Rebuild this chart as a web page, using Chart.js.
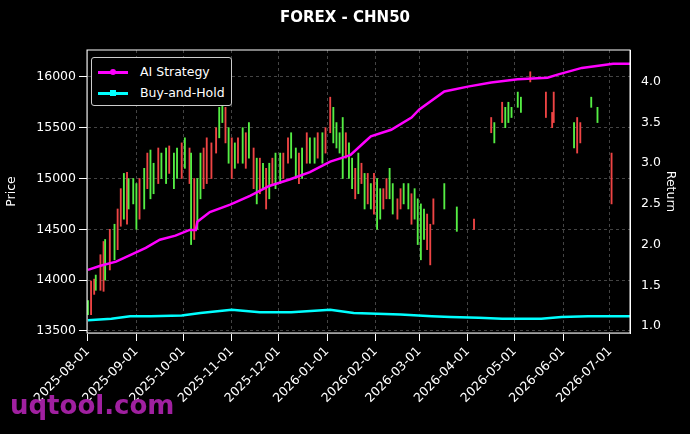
<!DOCTYPE html>
<html>
<head>
<meta charset="utf-8">
<script src="https://cdn.jsdelivr.net/npm/chart.js@4.4.1/dist/chart.umd.min.js"></script>
<style>
  html, body { margin: 0; padding: 0; background: #000; }
  #wrap { position: relative; width: 690px; height: 434px; font-family: "DejaVu Sans", sans-serif; }
  #title { position: absolute; top: 8px; left: 0; width: 690px; text-align: center; color: #fff; font-weight: bold; font-size: 15px; }
  #legend { position: absolute; left: 91px; top: 57px; border: 1px solid #ccc; border-radius: 3px; padding: 3px 6px 2px 6px; color: #fff; font-size: 12.5px; background: #000; }
  #legend div { height: 21px; line-height: 21px; }
  #legend span.sw { display: inline-block; width: 30px; height: 2.5px; vertical-align: middle; margin-right: 12px; position: relative; }
  #legend span.sw i { position: absolute; left: 12px; top: -2px; width: 6px; height: 6px; }
  #wm { position: absolute; left: 10px; top: 390px; color: #a020a0; font-weight: bold; font-size: 26px; }
</style>
</head>
<body>
<div id="wrap">
  <canvas id="c" width="690" height="434"></canvas>
  <div id="title">FOREX - CHN50</div>
  <div id="legend">
    <div><span class="sw" style="background:#ff00ff"><i style="background:#ff00ff;border-radius:3px"></i></span>AI Strategy</div>
    <div><span class="sw" style="background:#00ffff"><i style="background:#00ffff"></i></span>Buy-and-Hold</div>
  </div>
  <div id="wm">uqtool.com</div>
</div>
<script>
"use strict";

// ── Data ──────────────────────────────────────────────────────────────────────
// day offsets from 2025-08-01
const monthDays   = [0, 31, 61, 92, 122, 153, 184, 212, 243, 273, 304, 334];
const monthLabels = ["2025-08-01", "2025-09-01", "2025-10-01", "2025-11-01", "2025-12-01", "2026-01-01",
                     "2026-02-01", "2026-03-01", "2026-04-01", "2026-05-01", "2026-06-01", "2026-07-01"];

// [day, low, high, up]
const candles = [
  [0,13660,13800,1],[2,13660,13990,0],[4,13860,14010,0],[5,13900,14050,1],[8,13900,14250,0],
  [10,13890,14380,0],[11,14000,14400,1],[14,14100,14500,0],[17,14200,14550,1],[19,14300,14700,0],
  [21,14530,14900,0],[23,14600,15050,1],[25,14550,15060,0],[26,14700,15000,1],[29,14750,15000,1],
  [31,14500,14950,1],[33,14600,15000,0],[36,14700,15100,1],[38,14900,15250,0],[40,14800,15280,1],
  [42,14850,15150,1],[45,14950,15300,0],[47,15000,15250,1],[50,14950,15300,1],[52,15050,15320,0],
  [55,14900,15250,1],[57,15000,15300,1],[60,15000,15350,0],[62,15100,15400,1],[65,14950,15300,0],
  [66,14350,15250,1],[68,14400,15000,0],[70,14500,15000,1],[72,14800,15250,1],[74,14900,15300,0],
  [76,14950,15400,0],[79,15000,15350,0],[82,15250,15500,0],[84,15400,15700,1],[86,15550,15800,1],
  [88,15350,15700,0],[90,15150,15500,1],[92,15000,15400,0],[94,15100,15350,1],[96,15150,15400,0],
  [99,15150,15500,1],[101,15100,15450,0],[103,15200,15550,1],[106,14900,15300,0],[108,14750,15200,1],
  [110,14850,15200,0],[112,14900,15150,1],[114,14700,15100,0],[116,14800,15150,1],[118,14950,15200,0],
  [120,14900,15250,1],[123,14950,15250,1],[125,15000,15250,0],[128,15150,15400,0],[130,15200,15450,1],
  [133,15000,15300,1],[135,14950,15250,0],[137,15000,15300,1],[140,15150,15450,0],[142,15150,15400,1],
  [145,15150,15400,1],[147,15200,15450,0],[150,15150,15450,1],[152,15250,15500,0],[155,15450,15800,0],
  [157,15350,15700,1],[159,15300,15550,1],[161,15250,15450,1],[163,15000,15600,1],[165,15200,15450,0],
  [167,15000,15350,1],[169,14900,15200,1],[171,14800,15100,0],[173,14850,15250,1],[175,14950,15150,0],
  [177,14700,15050,1],[179,14750,15050,0],[181,14700,14950,1],[183,14650,15050,0],[185,14500,15000,1],
  [187,14600,14900,1],[189,14700,14900,0],[191,14800,15000,0],[193,14800,15100,1],[195,14650,14950,1],
  [198,14600,14800,0],[200,14700,14900,0],[202,14750,14950,1],[205,14700,14950,1],[207,14550,14850,0],
  [209,14600,14900,1],[211,14350,14800,1],[213,14200,14750,1],[215,14400,14700,1],[217,14300,14650,0],
  [219,14150,14550,0],[221,14550,14800,0],[228,14700,14950,1],[236,14480,14720,1],[247,14500,14600,0],
  [258,15450,15600,0],[260,15350,15550,1],[265,15550,15750,0],[267,15500,15700,1],[269,15550,15750,1],
  [271,15600,15700,1],[275,15700,15850,1],[277,15650,15800,1],[283,15950,16050,0],[293,15600,15850,0],
  [297,15500,15650,0],[298,15550,15850,0],[311,15300,15550,1],[313,15250,15600,0],[315,15350,15550,0],
  [322,15700,15800,1],[326,15550,15700,1],[335,14750,15250,0]
];

const aiDays   = [0, 8, 18, 27, 37, 46, 56, 65, 69, 70, 78, 91, 104, 116, 129, 142, 155, 165, 168, 177, 181, 194, 207, 212, 228, 243, 258, 275, 294, 301, 316, 336, 347];
const aiReturn = [1.69, 1.74, 1.79, 1.87, 1.96, 2.06, 2.11, 2.18, 2.18, 2.28, 2.40, 2.49, 2.60, 2.72, 2.80, 2.89, 3.02, 3.08, 3.10, 3.26, 3.33, 3.41, 3.56, 3.66, 3.88, 3.94, 3.99, 4.03, 4.05, 4.09, 4.17, 4.22, 4.22];

const bhDays   = [0, 15, 27, 40, 60, 72, 92, 110, 130, 155, 170, 185, 200, 220, 232, 250, 265, 290, 303, 320, 347];
const bhReturn = [1.07, 1.09, 1.12, 1.12, 1.13, 1.16, 1.20, 1.17, 1.17, 1.20, 1.16, 1.15, 1.14, 1.12, 1.11, 1.10, 1.09, 1.09, 1.11, 1.12, 1.12];

// ── Chart ─────────────────────────────────────────────────────────────────────
const UP = "#55ee44", DOWN = "#ee4444";
const GRID = { color: "#444" };
const BORDER = { color: "#444", dash: [3, 3] };
const FONT = { family: "DejaVu Sans", size: 12.5 };

// solid white frame around the plot area
const frame = {
  id: "frame",
  afterDraw(chart) {
    const { ctx, chartArea: a } = chart;
    ctx.save();
    ctx.strokeStyle = "#fff";
    ctx.lineWidth = 1;
    ctx.strokeRect(a.left, a.top, a.right - a.left, a.bottom - a.top);
    ctx.restore();
  },
};

new Chart(document.getElementById("c"), {
  plugins: [frame],
  data: {
    datasets: [
      {
        type: "line", label: "AI Strategy", yAxisID: "yR",
        data: aiDays.map((d, i) => ({ x: d, y: aiReturn[i] })),
        borderColor: "#ff00ff", borderWidth: 2.5, pointRadius: 0, tension: 0, order: 0,
      },
      {
        type: "line", label: "Buy-and-Hold", yAxisID: "yR",
        data: bhDays.map((d, i) => ({ x: d, y: bhReturn[i] })),
        borderColor: "#00ffff", borderWidth: 2.5, pointRadius: 0, tension: 0, order: 0,
      },
      {
        type: "bar", label: "price", yAxisID: "y",
        data: candles.map(c => ({ x: c[0], y: [c[1], c[2]] })),
        backgroundColor: candles.map(c => c[3] ? UP : DOWN),
        barThickness: 1.2, grouped: false, order: 1,
      },
    ],
  },
  options: {
    responsive: false, animation: false,
    layout: { padding: { top: 50, left: 4, right: 4 } },
    plugins: { legend: { display: false }, tooltip: { enabled: false } },
    scales: {
      x: {
        type: "linear", min: -0.6, max: 346.8, offset: false,
        afterBuildTicks: s => { s.ticks = monthDays.map(v => ({ value: v })); },
        afterFit: s => { s.height = 101; },
        ticks: {
          color: "#fff", font: FONT, maxRotation: 45, minRotation: 45,
          callback: v => monthLabels[monthDays.indexOf(v)] || "",
        },
        grid: { ...GRID, offset: false, tickColor: "#fff" }, border: BORDER,
      },
      y: {
        position: "left", min: 13480, max: 16264,
        afterBuildTicks: s => { s.ticks = [13500, 14000, 14500, 15000, 15500, 16000].map(v => ({ value: v })); },
        afterFit: s => { s.width = 83; },
        ticks: { color: "#fff", font: FONT, callback: v => String(v) },
        title: { display: true, text: "Price", color: "#fff", font: FONT, padding: { top: 0, bottom: 8 } },
        grid: { ...GRID, tickColor: "#fff" }, border: BORDER,
      },
      yR: {
        position: "right", min: 0.914, max: 4.39,
        afterBuildTicks: s => { s.ticks = [1.0, 1.5, 2.0, 2.5, 3.0, 3.5, 4.0].map(v => ({ value: v })); },
        afterFit: s => { s.width = 56; },
        ticks: { color: "#fff", font: FONT, callback: v => v.toFixed(1) },
        title: { display: true, text: "Return", color: "#fff", font: FONT, padding: { top: 8, bottom: 0 } },
        grid: { display: false }, border: { color: "#fff" },
      },
    },
  },
});
</script>
</body>
</html>
